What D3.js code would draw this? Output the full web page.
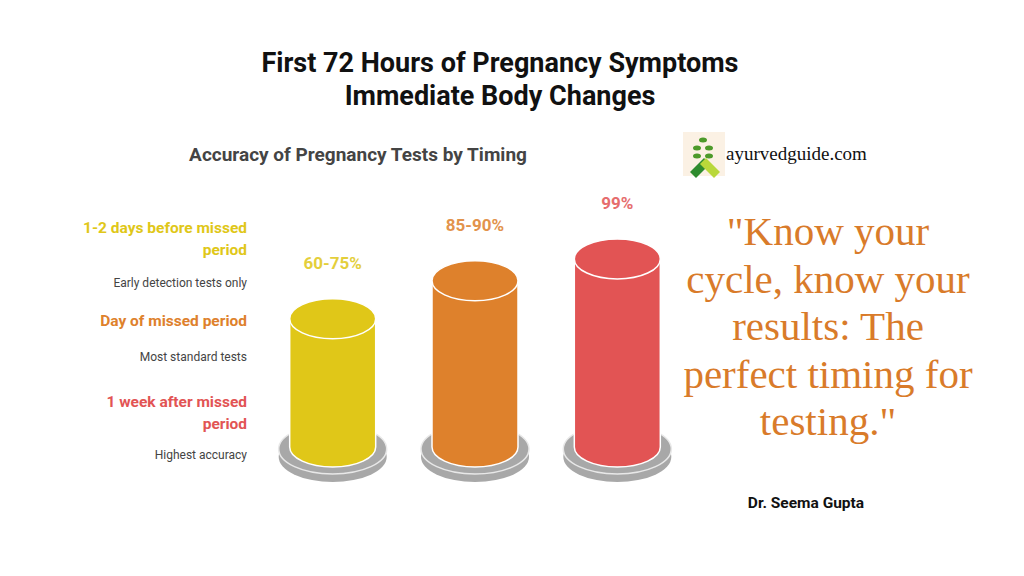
<!DOCTYPE html><html><head><meta charset="utf-8">
<script src="https://cdn.jsdelivr.net/npm/d3@7"></script>
<style>body{margin:0;background:#fff}</style></head><body>
<script>
const categories=["1-2 days before missed period","Day of missed period","1 week after missed period"];
const catLines=[["1-2 days before missed","period"],["Day of missed period"],["1 week after missed","period"]];
const valueLabels=["60-75%","85-90%","99%"];
const values=[67.5,87.5,99];
const descs=["Early detection tests only","Most standard tests","Highest accuracy"];
const colors=["#e0c718","#de812c","#e25454"];
const quoteLines=["\"Know your","cycle, know your","results: The","perfect timing for","testing.\""];

const svg=d3.select("body").append("svg").attr("width",1024).attr("height",576);
const F="Roboto, 'Open Sans', sans-serif";
const t=(x,y,s,opt)=>svg.append("text").attr("x",x).attr("y",y).attr("font-family",opt.f||F)
  .attr("font-weight",opt.w||400).attr("font-size",opt.s).attr("fill",opt.c||"#222")
  .attr("text-anchor",opt.a||"start").text(s);
t(500,72,"First 72 Hours of Pregnancy Symptoms",{s:27,w:700,c:"#111",a:"middle"});
t(500,105,"Immediate Body Changes",{s:27,w:700,c:"#111",a:"middle"});
t(358,161,"Accuracy of Pregnancy Tests by Timing",{s:19,w:700,c:"#444",a:"middle"});

// left legend
const catY=[233,326,407];
categories.forEach((c,i)=>{
  catLines[i].forEach((l,j)=>t(247,catY[i]+j*22,l,{s:15.5,w:700,c:colors[i],a:"end"}));
});
const descY=[287,361,459];
descs.forEach((d,i)=>t(247,descY[i],d,{s:12,c:"#444",a:"end"}));

// cylinders
const x=d3.scaleBand().domain(categories).range([290,660]).paddingInner(0.5).paddingOuter(0.05);
const y=d3.scaleLinear().domain([0,100]).range([447,257]);
const ry=20, base=y(0);
categories.forEach((c,i)=>{
  const cx=x(c)+x.bandwidth()/2, rx=43, top=y(values[i]);
  const g=svg.append("g");
  // base disc
  g.append("ellipse").attr("cx",cx).attr("cy",base+10).attr("rx",rx+11).attr("ry",ry+5).attr("fill","#a8a8a8");
  g.append("ellipse").attr("cx",cx).attr("cy",base+2).attr("rx",rx+11).attr("ry",ry+5).attr("fill","#a8a8a8").attr("stroke","#e8e8e8").attr("stroke-width",1.5);
  // body
  g.append("path").attr("d",`M${cx-rx},${top} L${cx-rx},${base} A${rx},${ry} 0 0 0 ${cx+rx},${base} L${cx+rx},${top} Z`)
    .attr("fill",colors[i]).attr("stroke","#fff").attr("stroke-width",1.5);
  g.append("ellipse").attr("cx",cx).attr("cy",top).attr("rx",rx).attr("ry",ry).attr("fill",colors[i]).attr("stroke","#fff").attr("stroke-width",1.5);
  t(cx,top-50,valueLabels[i],{s:17,w:700,c:colors[i],a:"middle"}).attr("opacity",0.85);
});

// logo
const lg=svg.append("g");
lg.append("rect").attr("x",683).attr("y",132).attr("width",42).attr("height",44).attr("fill","#fbf1e4");
lg.append("path").attr("d","M690,172 L704,158 L710,164 L696,178 Z").attr("fill","#2e8b2e");
lg.append("path").attr("d","M706,158 L720,172 L714,178 L700,164 Z").attr("fill","#b9d83a");
[[697,148],[709,148],[703,140],[697,156],[709,156]].forEach(p=>lg.append("ellipse").attr("cx",p[0]).attr("cy",p[1]).attr("rx",4).attr("ry",2.5).attr("fill","#4c9a2a"));
t(726,160,"ayurvedguide.com",{s:19,f:"'Liberation Serif', 'DejaVu Serif', serif",c:"#111"});

// quote
quoteLines.forEach((l,i)=>t(828,245+i*47.5,l,{s:41,f:"'Liberation Serif', 'DejaVu Serif', serif",c:"#d97b2a",a:"middle"}));
t(806,508,"Dr. Seema Gupta",{s:15.5,w:700,c:"#111",a:"middle"});
</script></body></html>
